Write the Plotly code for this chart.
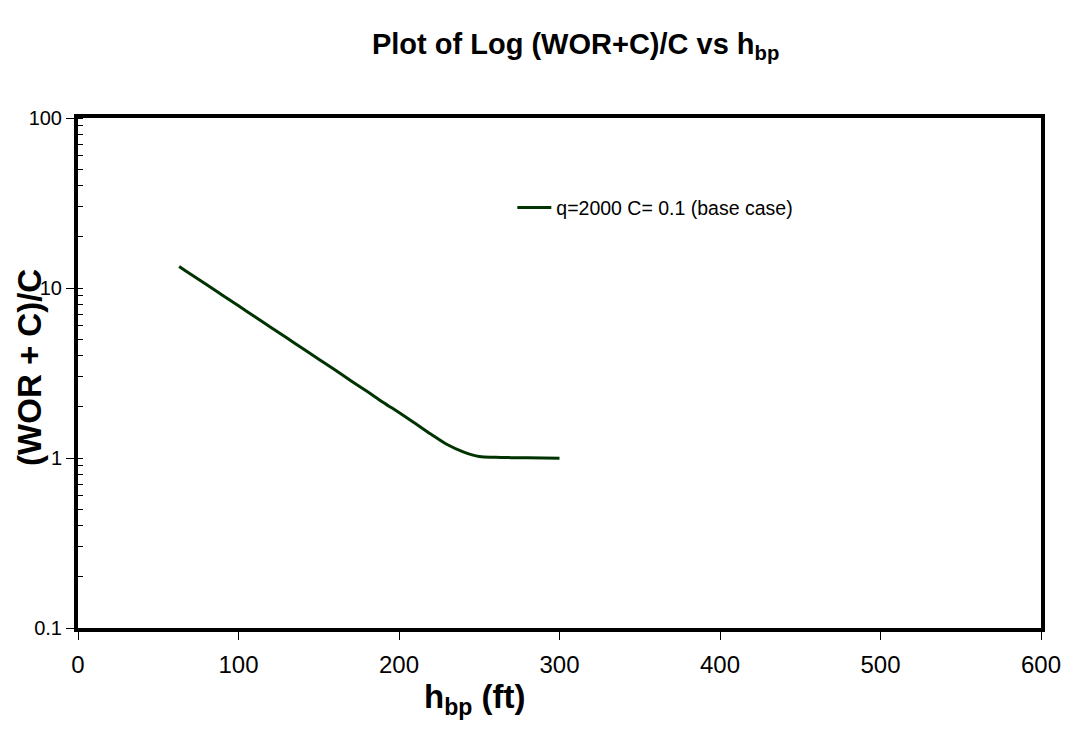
import plotly.graph_objects as go

h_bp = [63, 70, 80, 90, 100, 110, 120, 130, 140, 150, 160, 170, 180, 190, 200,
        210, 220, 230, 240, 250, 260, 270, 280, 290, 300]
ratio = [13.4, 12.1, 10.5, 9.08, 7.85, 6.80, 5.88, 5.09, 4.40, 3.81, 3.30, 2.85,
         2.47, 2.13, 1.85, 1.60, 1.38, 1.20, 1.087, 1.02, 1.01, 1.005, 1.003, 1.0, 0.995]
series_name = "q=2000 C= 0.1 (base case)"
x_ticks = [0, 100, 200, 300, 400, 500, 600]
y_ticks = [0.1, 1, 10, 100]
y_tick_text = ["0.1", "1", "10", "100"]

FONT = "Liberation Sans, Arial, sans-serif"

fig = go.Figure()
fig.add_trace(go.Scatter(
    x=h_bp, y=ratio, mode="lines", name=series_name,
    line=dict(color="#003300", width=3, shape="spline"),
))

fig.update_layout(
    width=1072, height=755,
    margin=dict(l=78, r=31, t=118, b=127, autoexpand=False),
    paper_bgcolor="white", plot_bgcolor="white",
    font=dict(family=FONT, color="black"),
    showlegend=True,
    legend=dict(x=0.451, y=0.824, xanchor="left", yanchor="middle",
                bgcolor="rgba(0,0,0,0)", font=dict(size=19.5, family=FONT),
                itemwidth=34),
    title=dict(text="<b>Plot of Log (WOR+C)/C vs h<sub>bp</sub></b>",
               x=0.537, xanchor="center", y=0.942, yanchor="middle",
               font=dict(size=29, family=FONT)),
)

fig.update_xaxes(
    range=[0, 600], tickvals=x_ticks, ticks="outside", ticklen=8, tickwidth=1,
    tickcolor="black", showgrid=False, zeroline=False, automargin=False,
    showline=True, linecolor="black", linewidth=4, mirror=True,
    tickfont=dict(size=24, family=FONT), ticklabelstandoff=4,
)
fig.update_yaxes(
    type="log", range=[-1, 2], tickvals=y_ticks, ticktext=y_tick_text,
    ticks="outside", ticklen=8, tickwidth=1, tickcolor="black",
    showgrid=False, zeroline=False, automargin=False,
    showline=True, linecolor="black", linewidth=4, mirror=True,
    tickfont=dict(size=20, family=FONT),
    minor=dict(ticks="inside", ticklen=5, tickwidth=1, tickcolor="black",
               dtick="D1", showgrid=False),
)

fig.add_annotation(text="<b>h<sub>bp</sub> (ft)</b>", xref="paper", yref="paper",
                   x=(475 - 78) / 963, y=-(699 - 628) / 510, showarrow=False,
                   xanchor="center", yanchor="middle",
                   font=dict(size=33, family=FONT))
fig.add_annotation(text="<b>(WOR + C)/C</b>", xref="paper", yref="paper",
                   x=-(78 - 30) / 963, y=0.51, showarrow=False, textangle=-90,
                   xanchor="center", yanchor="middle",
                   font=dict(size=33, family=FONT))

fig.write_html("out.html", config={"displayModeBar": False},
               post_script="document.body.style.margin='0';")
